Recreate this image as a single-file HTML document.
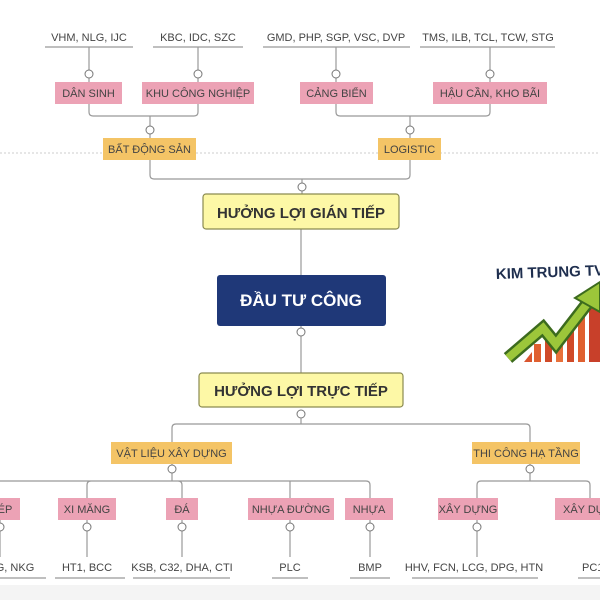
<!DOCTYPE html>
<html><head><meta charset="utf-8"><style>
html,body{margin:0;padding:0;background:#fff;}
svg{display:block;font-family:"Liberation Sans",Arial,sans-serif;}
.t{font-size:11px;fill:#444;text-anchor:middle;}
.l{stroke:#999;stroke-width:1.2;fill:none;}
.u{stroke:#999;stroke-width:1.2;}
.p{fill:#eca2b5;}
.o{fill:#f4c466;}
.c{fill:#fff;stroke:#777;stroke-width:1;}
</style></head><body>
<svg width="600" height="600" viewBox="0 0 600 600" xmlns="http://www.w3.org/2000/svg">
<rect x="0" y="585" width="600" height="15" fill="#f4f4f4"/>
<line x1="0" y1="153" x2="600" y2="153" stroke="#ccc" stroke-width="1" stroke-dasharray="2,2"/>
<text class="t" x="89" y="41">VHM, NLG, IJC</text>
<text class="t" x="198" y="41">KBC, IDC, SZC</text>
<text class="t" x="336" y="41">GMD, PHP, SGP, VSC, DVP</text>
<text class="t" x="488" y="41">TMS, ILB, TCL, TCW, STG</text>
<line class="u" x1="45" y1="47" x2="133" y2="47"/>
<line class="u" x1="153" y1="47" x2="243" y2="47"/>
<line class="u" x1="263" y1="47" x2="410" y2="47"/>
<line class="u" x1="420" y1="47" x2="555" y2="47"/>
<line class="l" x1="89" y1="47" x2="89" y2="82"/>
<line class="l" x1="198" y1="47" x2="198" y2="82"/>
<line class="l" x1="336" y1="47" x2="336" y2="82"/>
<line class="l" x1="490" y1="47" x2="490" y2="82"/>
<path class="l" d="M89 104 V112 Q89 116 93 116 H194 Q198 116 198 112 V104 M150 116 V138"/>
<path class="l" d="M336 104 V112 Q336 116 340 116 H486 Q490 116 490 112 V104 M410 116 V138"/>
<path class="l" d="M150 160 V175 Q150 179 154 179 H406 Q410 179 410 175 V160 M302 179 V194"/>
<rect class="p" x="55" y="82" width="67" height="22"/><text class="t" x="88.5" y="97">DÂN SINH</text>
<rect class="p" x="142" y="82" width="112" height="22"/><text class="t" x="198" y="97">KHU CÔNG NGHIỆP</text>
<rect class="p" x="300" y="82" width="73" height="22"/><text class="t" x="336.5" y="97">CẢNG BIỂN</text>
<rect class="p" x="433" y="82" width="114" height="22"/><text class="t" x="490" y="97">HẬU CẦN, KHO BÃI</text>
<rect class="o" x="103" y="138" width="93" height="22"/><text class="t" x="149.5" y="153">BẤT ĐỘNG SẢN</text>
<rect class="o" x="378" y="138" width="63" height="22"/><text class="t" x="409.5" y="153">LOGISTIC</text>
<g>
<circle class="c" cx="89" cy="74" r="4"/><circle class="c" cx="198" cy="74" r="4"/>
<circle class="c" cx="336" cy="74" r="4"/><circle class="c" cx="490" cy="74" r="4"/>
<circle class="c" cx="150" cy="130" r="4"/><circle class="c" cx="410" cy="130" r="4"/>
<circle class="c" cx="302" cy="187" r="4"/>
</g>
<line class="l" x1="301" y1="229" x2="301" y2="275"/>
<line class="l" x1="301" y1="326" x2="301" y2="373"/>
<rect x="203" y="194" width="196" height="35" rx="3" fill="#fdf8a6" stroke="#8a8a50" stroke-width="1.2"/>
<text x="301" y="218" font-size="15" font-weight="bold" fill="#333" text-anchor="middle">HƯỞNG LỢI GIÁN TIẾP</text>
<rect x="217" y="275" width="169" height="51" rx="3" fill="#1f3878"/>
<text x="301" y="306" font-size="17" font-weight="bold" fill="#fff" text-anchor="middle">ĐẦU TƯ CÔNG</text>
<circle class="c" cx="301" cy="332" r="4"/>
<rect x="199" y="373" width="204" height="34" rx="3" fill="#fdf8a6" stroke="#8a8a50" stroke-width="1.2"/>
<text x="301" y="396" font-size="15" font-weight="bold" fill="#333" text-anchor="middle">HƯỞNG LỢI TRỰC TIẾP</text>
<circle class="c" cx="301" cy="414" r="4"/>
<path class="l" d="M172 442 V428 Q172 424 176 424 H526 Q530 424 530 428 V442 M301 418 V424"/>
<rect class="o" x="111" y="442" width="121" height="22"/><text class="t" x="171.5" y="457">VẬT LIỆU XÂY DỰNG</text>
<rect class="o" x="472" y="442" width="108" height="22"/><text class="t" x="526" y="457">THI CÔNG HẠ TẦNG</text>
<path class="l" d="M172 464 V481 M0 481 H366 Q370 481 370 485 V498 M87 498 V485 Q87 481 91 481 M182 498 V485 Q182 481 178 481 M290 498 V481"/>
<path class="l" d="M530 464 V481 M477 498 V485 Q477 481 481 481 H586 Q590 481 590 485 V498"/>
<circle class="c" cx="172" cy="469" r="4"/><circle class="c" cx="530" cy="469" r="4"/>
<rect class="p" x="-10" y="498" width="30" height="22"/><text class="t" x="5" y="513">ÉP</text>
<rect class="p" x="58" y="498" width="58" height="22"/><text class="t" x="87" y="513">XI MĂNG</text>
<rect class="p" x="166" y="498" width="32" height="22"/><text class="t" x="182" y="513">ĐÁ</text>
<rect class="p" x="248" y="498" width="86" height="22"/><text class="t" x="291" y="513">NHỰA ĐƯỜNG</text>
<rect class="p" x="345" y="498" width="48" height="22"/><text class="t" x="369" y="513">NHỰA</text>
<rect class="p" x="438" y="498" width="60" height="22"/><text class="t" x="468" y="513">XÂY DỰNG</text>
<rect class="p" x="555" y="498" width="60" height="22"/><text class="t" x="563" y="513" style="text-anchor:start">XÂY DỰ</text>
<line class="l" x1="0" y1="520" x2="0" y2="557"/>
<line class="l" x1="87" y1="520" x2="87" y2="557"/>
<line class="l" x1="182" y1="520" x2="182" y2="557"/>
<line class="l" x1="290" y1="520" x2="290" y2="557"/>
<line class="l" x1="370" y1="520" x2="370" y2="557"/>
<line class="l" x1="477" y1="520" x2="477" y2="557"/>
<circle class="c" cx="0" cy="527" r="4"/><circle class="c" cx="87" cy="527" r="4"/>
<circle class="c" cx="182" cy="527" r="4"/><circle class="c" cx="290" cy="527" r="4"/>
<circle class="c" cx="370" cy="527" r="4"/><circle class="c" cx="477" cy="527" r="4"/>
<text class="t" x="15" y="571">G, NKG</text>
<text class="t" x="87" y="571">HT1, BCC</text>
<text class="t" x="182" y="571">KSB, C32, DHA, CTI</text>
<text class="t" x="290" y="571">PLC</text>
<text class="t" x="370" y="571">BMP</text>
<text class="t" x="474" y="571">HHV, FCN, LCG, DPG, HTN</text>
<text class="t" x="582" y="571" style="text-anchor:start">PC1</text>
<line class="u" x1="0" y1="578" x2="46" y2="578"/>
<line class="u" x1="55" y1="578" x2="125" y2="578"/>
<line class="u" x1="133" y1="578" x2="230" y2="578"/>
<line class="u" x1="272" y1="578" x2="308" y2="578"/>
<line class="u" x1="350" y1="578" x2="390" y2="578"/>
<line class="u" x1="412" y1="578" x2="538" y2="578"/>
<line class="u" x1="578" y1="578" x2="600" y2="578"/>
<text x="496" y="279" font-size="15" font-weight="bold" fill="#1e2e4e" transform="rotate(-2 496 279)">KIM TRUNG TV</text>
<g>
<polygon points="524,362 532,352 532,362" fill="#d9552e"/>
<rect x="534" y="344" width="7" height="18" fill="#e06030"/>
<rect x="545" y="336" width="7" height="26" fill="#d04a28"/>
<rect x="556" y="340" width="7" height="22" fill="#e8703a"/>
<rect x="567" y="326" width="7" height="36" fill="#d04a28"/>
<rect x="578" y="312" width="7" height="50" fill="#e06030"/>
<rect x="589" y="300" width="11" height="62" fill="#c8402a"/>
<polyline points="508,358 543,328 556,344 590,300" fill="none" stroke="#3c6b1e" stroke-width="13"/>
<polyline points="508,358 543,328 556,344 590,300" fill="none" stroke="#9cc63a" stroke-width="8"/>
<polygon points="575,298 600,282 600,312" fill="#9cc63a" stroke="#3c6b1e" stroke-width="2"/>
</g>
</svg>
</body></html>
